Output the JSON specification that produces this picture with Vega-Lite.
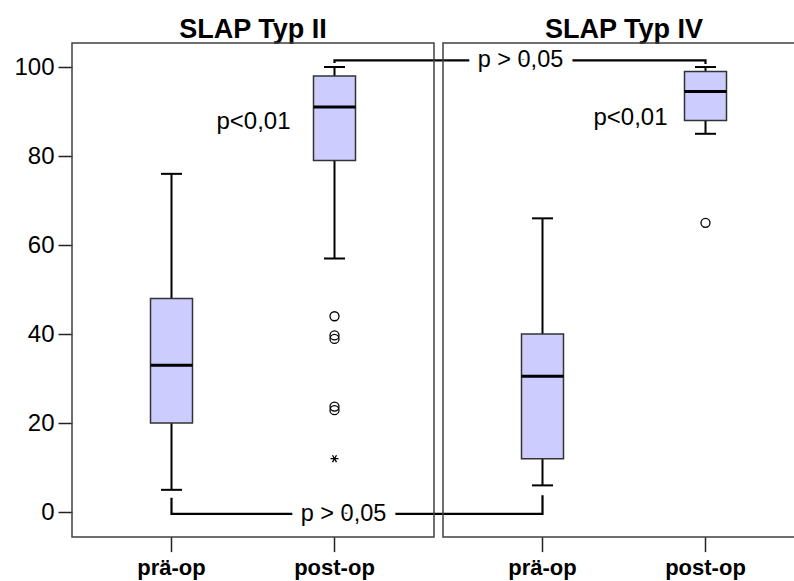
{
  "$schema": "https://vega.github.io/schema/vega-lite/v6.json",
  "width": 733,
  "height": 494,
  "autosize": {"type": "none"},
  "padding": {"left": 72, "top": 43, "right": -11, "bottom": 44},
  "background": "white",
  "config": {
    "view": {"stroke": null},
    "font": "Liberation Sans",
    "axisY": {"domain": false, "grid": false, "tickSize": 14, "tickWidth": 1.5, "tickColor": "#222222",
      "labelFontSize": 24, "labelColor": "black", "labelPadding": 4, "tickCount": 6}
  },
  "datasets": {
    "panels": [{"panel": "SLAP Typ II"}, {"panel": "SLAP Typ IV"}],
    "stats": [
      {"panel": "SLAP Typ II", "time": "prä-op", "low": 5, "q1": 20, "median": 33, "q3": 48, "high": 76},
      {"panel": "SLAP Typ II", "time": "post-op", "low": 57, "q1": 79, "median": 91, "q3": 98, "high": 100},
      {"panel": "SLAP Typ IV", "time": "prä-op", "low": 6, "q1": 12, "median": 30.5, "q3": 40, "high": 66},
      {"panel": "SLAP Typ IV", "time": "post-op", "low": 85, "q1": 88, "median": 94.5, "q3": 99, "high": 100}
    ],
    "outliers": [
      {"panel": "SLAP Typ II", "time": "post-op", "value": 44, "kind": "o"},
      {"panel": "SLAP Typ II", "time": "post-op", "value": 39.7, "kind": "o"},
      {"panel": "SLAP Typ II", "time": "post-op", "value": 38.9, "kind": "o"},
      {"panel": "SLAP Typ II", "time": "post-op", "value": 23.7, "kind": "o"},
      {"panel": "SLAP Typ II", "time": "post-op", "value": 22.9, "kind": "o"},
      {"panel": "SLAP Typ II", "time": "post-op", "value": 12, "kind": "*"},
      {"panel": "SLAP Typ IV", "time": "post-op", "value": 65, "kind": "o"}
    ],
    "brackets": [
      {"id": "bottom", "order": 1, "panel": "SLAP Typ II", "time": "prä-op", "value": 3.2},
      {"id": "bottom", "order": 2, "panel": "SLAP Typ II", "time": "prä-op", "value": -0.4},
      {"id": "bottom", "order": 3, "panel": "SLAP Typ IV", "time": "prä-op", "value": -0.4},
      {"id": "bottom", "order": 4, "panel": "SLAP Typ IV", "time": "prä-op", "value": 3.8},
      {"id": "top", "order": 1, "panel": "SLAP Typ II", "time": "post-op", "value": 100.9},
      {"id": "top", "order": 2, "panel": "SLAP Typ II", "time": "post-op", "value": 101.5},
      {"id": "top", "order": 3, "panel": "SLAP Typ IV", "time": "post-op", "value": 101.5},
      {"id": "top", "order": 4, "panel": "SLAP Typ IV", "time": "post-op", "value": 100.7}
    ],
    "plabels": [
      {"id": "bottom", "panel": "SLAP Typ II", "time": "post-op", "value": -0.4, "label": "p > 0,05"},
      {"id": "top", "panel": "SLAP Typ IV", "time": "prä-op", "value": 101.5, "label": "p > 0,05"},
      {"id": "II", "panel": "SLAP Typ II", "time": "post-op", "value": 87.6, "label": "p<0,01"},
      {"id": "IV", "panel": "SLAP Typ IV", "time": "post-op", "value": 88.5, "label": "p<0,01"}
    ]
  },
  "encoding": {
    "x": {
      "field": "panel", "type": "nominal", "sort": ["SLAP Typ II", "SLAP Typ IV"],
      "scale": {"type": "band", "paddingInner": 0.02426, "paddingOuter": 0},
      "axis": {"orient": "top", "title": null, "domain": false, "ticks": false, "tickSize": 0,
        "labelFontSize": 27, "labelFontWeight": "bold", "labelPadding": 6, "labelBaseline": "alphabetic",
        "labelColor": "black", "labelAngle": 0}
    }
  },
  "layer": [
    {
      "data": {"name": "stats"},
      "mark": {"type": "rule", "color": "black", "strokeWidth": 2},
      "encoding": {
        "xOffset": {"field": "time", "type": "nominal", "sort": ["prä-op", "post-op"], "scale": {"type": "band", "paddingOuter": 0.1104, "paddingInner": 0}},
        "y": {"field": "low", "type": "quantitative", "title": null, "scale": {"domain": [-5.6, 105.4], "nice": false, "zero": false},
          "axis": {"values": [0, 20, 40, 60, 80, 100], "title": null}},
        "y2": {"field": "high"}
      }
    },
    {
      "data": {"name": "stats"},
      "mark": {"type": "tick", "color": "black", "size": 21, "thickness": 2, "opacity": 1},
      "encoding": {
        "xOffset": {"field": "time", "type": "nominal", "sort": ["prä-op", "post-op"], "scale": {"type": "band", "paddingOuter": 0.1104, "paddingInner": 0}},
        "y": {"field": "low", "type": "quantitative", "title": null, "scale": {"domain": [-5.6, 105.4], "nice": false, "zero": false}}
      }
    },
    {
      "data": {"name": "stats"},
      "mark": {"type": "tick", "color": "black", "size": 21, "thickness": 2, "opacity": 1},
      "encoding": {
        "xOffset": {"field": "time", "type": "nominal", "sort": ["prä-op", "post-op"], "scale": {"type": "band", "paddingOuter": 0.1104, "paddingInner": 0}},
        "y": {"field": "high", "type": "quantitative", "title": null, "scale": {"domain": [-5.6, 105.4], "nice": false, "zero": false}}
      }
    },
    {
      "data": {"name": "stats"},
      "mark": {"type": "bar", "size": 42, "fill": "#ccccff", "stroke": "#333333", "strokeWidth": 1.5, "opacity": 1},
      "encoding": {
        "xOffset": {"field": "time", "type": "nominal", "sort": ["prä-op", "post-op"], "scale": {"type": "band", "paddingOuter": 0.1104, "paddingInner": 0}},
        "y": {"field": "q1", "type": "quantitative", "title": null, "scale": {"domain": [-5.6, 105.4], "nice": false, "zero": false}},
        "y2": {"field": "q3"}
      }
    },
    {
      "data": {"name": "stats"},
      "mark": {"type": "tick", "color": "black", "size": 42, "thickness": 3, "opacity": 1},
      "encoding": {
        "xOffset": {"field": "time", "type": "nominal", "sort": ["prä-op", "post-op"], "scale": {"type": "band", "paddingOuter": 0.1104, "paddingInner": 0}},
        "y": {"field": "median", "type": "quantitative", "title": null, "scale": {"domain": [-5.6, 105.4], "nice": false, "zero": false}}
      }
    },
    {
      "data": {"name": "outliers"},
      "mark": {"type": "point", "filled": false, "color": "black", "strokeWidth": 1.3, "opacity": 1},
      "encoding": {
        "xOffset": {"field": "time", "type": "nominal", "sort": ["prä-op", "post-op"], "scale": {"type": "band", "paddingOuter": 0.1104, "paddingInner": 0}},
        "y": {"field": "value", "type": "quantitative", "title": null, "scale": {"domain": [-5.6, 105.4], "nice": false, "zero": false}},
        "shape": {"field": "kind", "type": "nominal", "scale": {"domain": ["o", "*"], "range": ["circle", "M-1,0L1,0M-0.5,-0.866L0.5,0.866M-0.5,0.866L0.5,-0.866"]}, "legend": null},
        "size": {"field": "kind", "type": "nominal", "scale": {"domain": ["o", "*"], "range": [81, 64]}, "legend": null}
      }
    },
    {
      "data": {"name": "brackets"},
      "mark": {"type": "line", "color": "black", "strokeWidth": 2.2},
      "encoding": {
        "xOffset": {"field": "time", "type": "nominal", "sort": ["prä-op", "post-op"], "scale": {"type": "band", "paddingOuter": 0.1104, "paddingInner": 0}},
        "y": {"field": "value", "type": "quantitative", "title": null, "scale": {"domain": [-5.6, 105.4], "nice": false, "zero": false}},
        "detail": {"field": "id"},
        "order": {"field": "order", "type": "quantitative"}
      }
    },
    {
      "data": {"name": "plabels"},
      "transform": [{"filter": "datum.id === 'bottom'"}],
      "mark": {"type": "text", "fontSize": 23.5, "dx": 9, "baseline": "middle", "stroke": "white", "strokeWidth": 20, "color": "white", "strokeJoin": "round"},
      "encoding": {
        "xOffset": {"field": "time", "type": "nominal", "sort": ["prä-op", "post-op"], "scale": {"type": "band", "paddingOuter": 0.1104, "paddingInner": 0}},
        "y": {"field": "value", "type": "quantitative", "title": null, "scale": {"domain": [-5.6, 105.4], "nice": false, "zero": false}},
        "text": {"field": "label"}
      }
    },
    {
      "data": {"name": "plabels"},
      "transform": [{"filter": "datum.id === 'top'"}],
      "mark": {"type": "text", "fontSize": 23.5, "dx": -22, "baseline": "middle", "stroke": "white", "strokeWidth": 20, "color": "white", "strokeJoin": "round"},
      "encoding": {
        "xOffset": {"field": "time", "type": "nominal", "sort": ["prä-op", "post-op"], "scale": {"type": "band", "paddingOuter": 0.1104, "paddingInner": 0}},
        "y": {"field": "value", "type": "quantitative", "title": null, "scale": {"domain": [-5.6, 105.4], "nice": false, "zero": false}},
        "text": {"field": "label"}
      }
    },
    {
      "data": {"name": "plabels"},
      "transform": [{"filter": "datum.id === 'bottom'"}],
      "mark": {"type": "text", "fontSize": 23.5, "dx": 9, "baseline": "middle", "color": "black"},
      "encoding": {
        "xOffset": {"field": "time", "type": "nominal", "sort": ["prä-op", "post-op"], "scale": {"type": "band", "paddingOuter": 0.1104, "paddingInner": 0}},
        "y": {"field": "value", "type": "quantitative", "title": null, "scale": {"domain": [-5.6, 105.4], "nice": false, "zero": false}},
        "text": {"field": "label"}
      }
    },
    {
      "data": {"name": "plabels"},
      "transform": [{"filter": "datum.id === 'top'"}],
      "mark": {"type": "text", "fontSize": 23.5, "dx": -22, "baseline": "middle", "color": "black"},
      "encoding": {
        "xOffset": {"field": "time", "type": "nominal", "sort": ["prä-op", "post-op"], "scale": {"type": "band", "paddingOuter": 0.1104, "paddingInner": 0}},
        "y": {"field": "value", "type": "quantitative", "title": null, "scale": {"domain": [-5.6, 105.4], "nice": false, "zero": false}},
        "text": {"field": "label"}
      }
    },
    {
      "data": {"name": "plabels"},
      "transform": [{"filter": "datum.id === 'II'"}],
      "mark": {"type": "text", "fontSize": 24, "dx": -44, "align": "right", "baseline": "middle", "color": "black"},
      "encoding": {
        "xOffset": {"field": "time", "type": "nominal", "sort": ["prä-op", "post-op"], "scale": {"type": "band", "paddingOuter": 0.1104, "paddingInner": 0}},
        "y": {"field": "value", "type": "quantitative", "title": null, "scale": {"domain": [-5.6, 105.4], "nice": false, "zero": false}},
        "text": {"field": "label"}
      }
    },
    {
      "data": {"name": "plabels"},
      "transform": [{"filter": "datum.id === 'IV'"}],
      "mark": {"type": "text", "fontSize": 24, "dx": -38, "align": "right", "baseline": "middle", "color": "black"},
      "encoding": {
        "xOffset": {"field": "time", "type": "nominal", "sort": ["prä-op", "post-op"], "scale": {"type": "band", "paddingOuter": 0.1104, "paddingInner": 0}},
        "y": {"field": "value", "type": "quantitative", "title": null, "scale": {"domain": [-5.6, 105.4], "nice": false, "zero": false}},
        "text": {"field": "label"}
      }
    },
    {
      "data": {"name": "stats"},
      "mark": {"type": "rule", "color": "#222222", "strokeWidth": 1.5},
      "encoding": {
        "xOffset": {"field": "time", "type": "nominal", "sort": ["prä-op", "post-op"], "scale": {"type": "band", "paddingOuter": 0.1104, "paddingInner": 0}},
        "y": {"datum": -5.6, "type": "quantitative", "title": null, "scale": {"domain": [-5.6, 105.4], "nice": false, "zero": false}},
        "y2": {"datum": -9.0}
      }
    },
    {
      "data": {"name": "stats"},
      "mark": {"type": "text", "fontSize": 22, "fontWeight": "bold", "baseline": "alphabetic", "color": "black"},
      "encoding": {
        "xOffset": {"field": "time", "type": "nominal", "sort": ["prä-op", "post-op"], "scale": {"type": "band", "paddingOuter": 0.1104, "paddingInner": 0}},
        "y": {"datum": -14.2, "type": "quantitative", "title": null, "scale": {"domain": [-5.6, 105.4], "nice": false, "zero": false}},
        "text": {"field": "time"}
      }
    },
    {
      "data": {"name": "panels"},
      "mark": {"type": "rect", "fill": "white", "fillOpacity": 0, "stroke": "#404040", "strokeWidth": 1.5},
      "encoding": {
        "y": {"datum": 105.4, "type": "quantitative", "title": null, "scale": {"domain": [-5.6, 105.4], "nice": false, "zero": false}},
        "y2": {"datum": -5.6}
      }
    }
  ]
}
